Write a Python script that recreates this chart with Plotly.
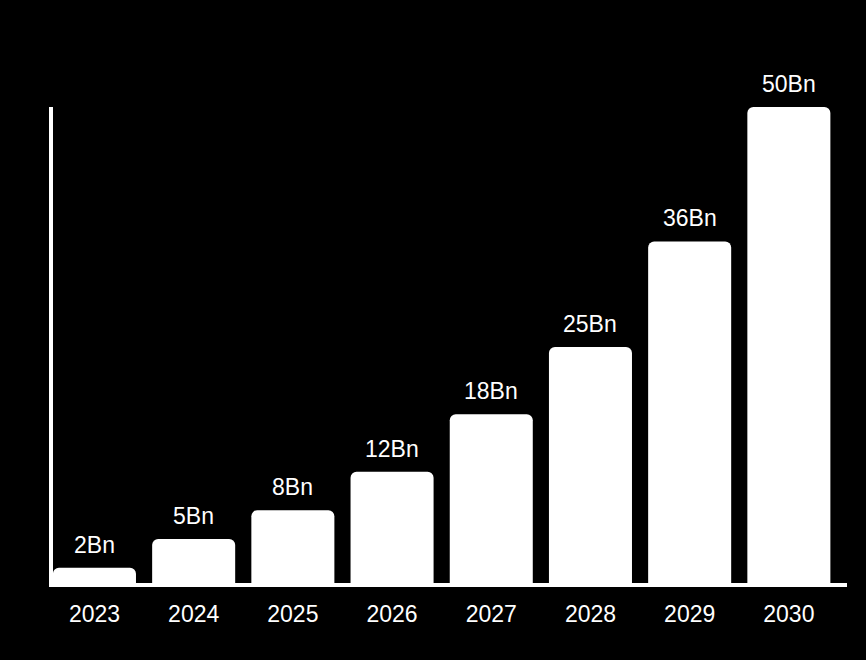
import plotly.graph_objects as go

years = ["2023", "2024", "2025", "2026", "2027", "2028", "2029", "2030"]
values = [2, 5, 8, 12, 18, 25, 36, 50]
labels = ["2Bn", "5Bn", "8Bn", "12Bn", "18Bn", "25Bn", "36Bn", "50Bn"]

FONT = "Liberation Sans, Arial, Helvetica, sans-serif"

fig = go.Figure()
fig.add_trace(go.Bar(
    x=list(range(len(years))),
    y=values,
    width=0.837,
    marker=dict(color="#ffffff", line=dict(width=0)),
    hoverinfo="skip",
))

for i, (v, t) in enumerate(zip(values, labels)):
    fig.add_annotation(
        x=i, y=v, text=t, showarrow=False,
        yanchor="bottom", yshift=8,
        font=dict(family=FONT, size=23, color="#ffffff"),
    )

fig.update_layout(
    width=866, height=660,
    paper_bgcolor="#000000", plot_bgcolor="#000000",
    margin=dict(l=53, r=19, t=107, b=77),
    barcornerradius=6,
    showlegend=False,
    font=dict(family=FONT, size=23, color="#ffffff"),
    xaxis=dict(
        range=[-0.418, 7.586],
        tickmode="array",
        tickvals=list(range(len(years))),
        ticktext=years,
        showgrid=False, zeroline=False,
        showline=True, linecolor="#ffffff", linewidth=4,
        ticks="outside", ticklen=7, tickcolor="rgba(0,0,0,0)",
        tickfont=dict(family=FONT, size=23, color="#ffffff"),
    ),
    yaxis=dict(
        range=[0.417, 50],
        showgrid=False, zeroline=False,
        showline=True, linecolor="#ffffff", linewidth=4,
        showticklabels=False, ticks="",
    ),
)

fig.write_html(
    "out.html",
    config={"displayModeBar": False},
    post_script="document.body.style.margin='0';document.body.style.background='#000';",
)
